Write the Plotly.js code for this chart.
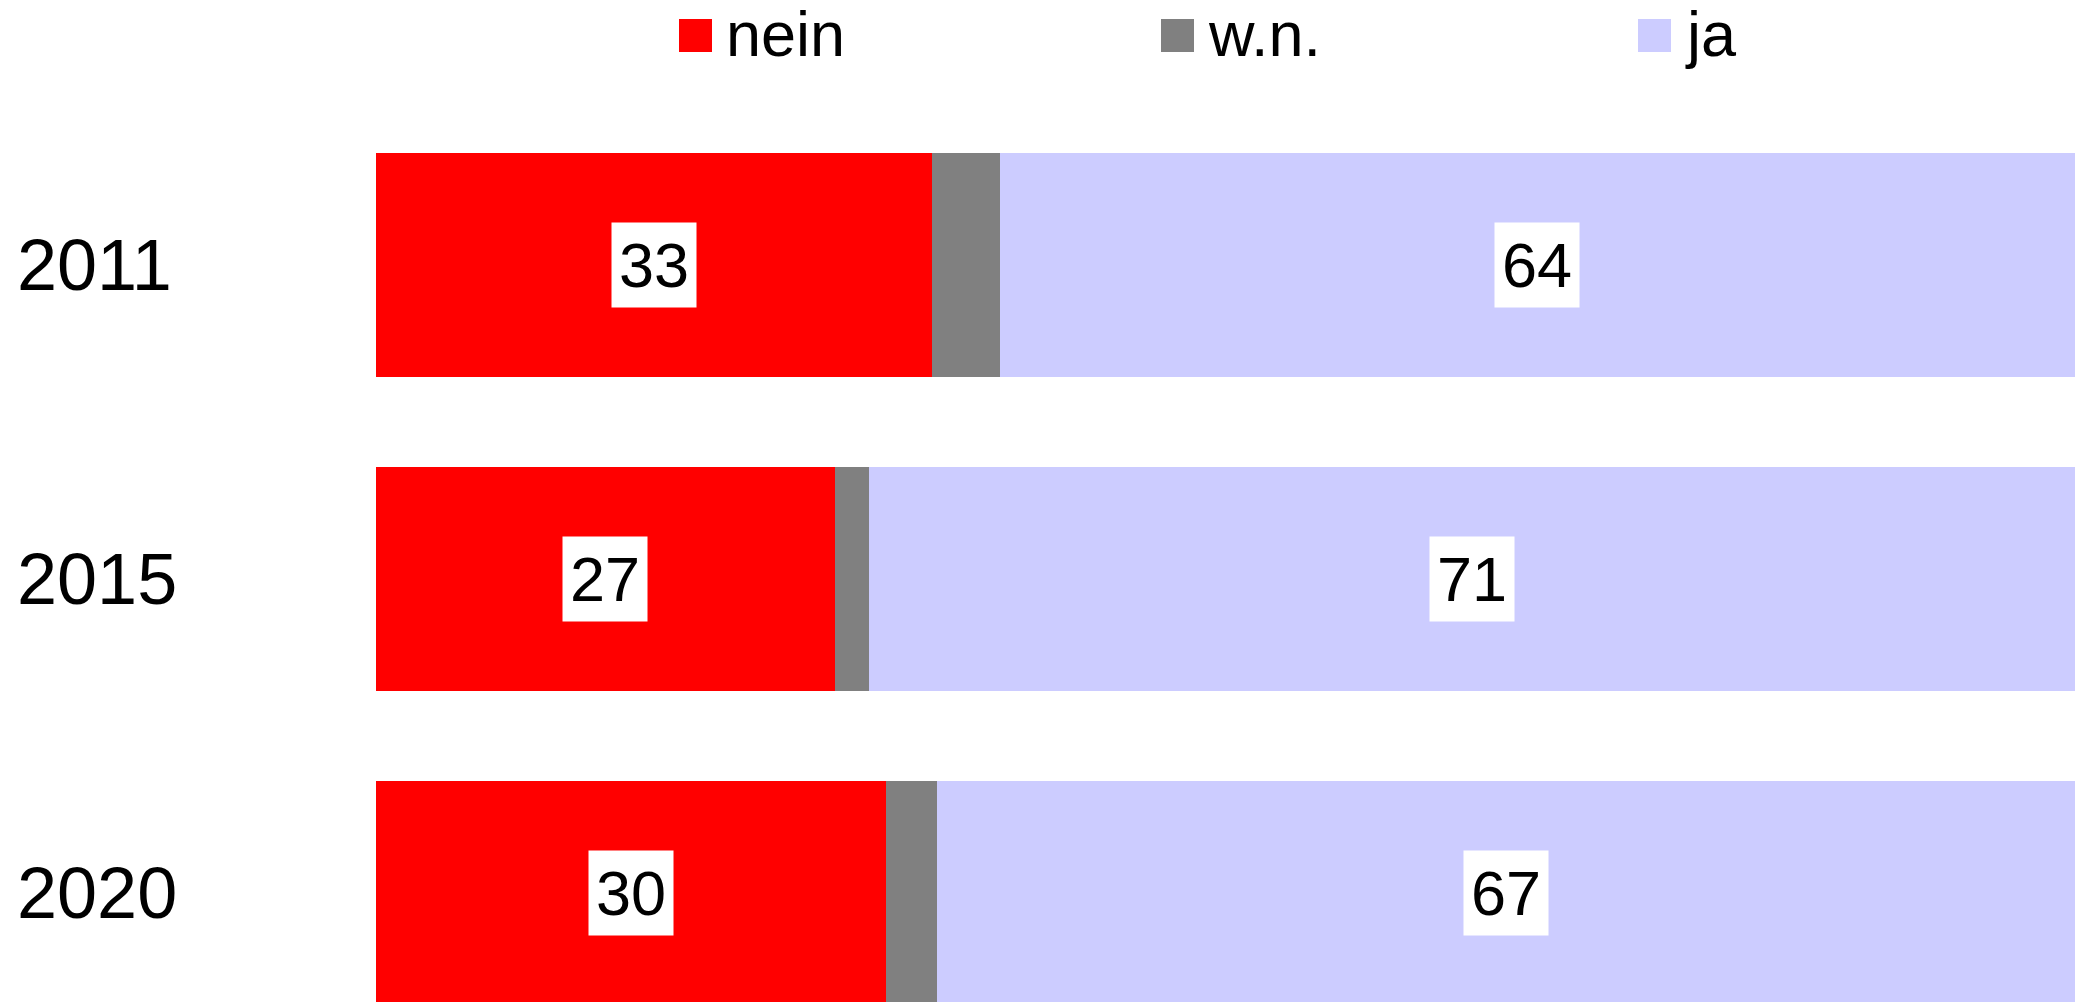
<!DOCTYPE html>
<html>
<head>
<meta charset="utf-8">
<script src="https://cdn.plot.ly/plotly-3.0.1.min.js"></script>
<style>
  html, body { margin: 0; padding: 0; background: #fff; }
  #chart { width: 2080px; height: 1002px; }
</style>
</head>
<body>
<div id="chart"></div>
<script>
// survey answers per year, shares in percent
var years = ['2011', '2015', '2020'];
var seriesNames = ['nein', 'w.n.', 'ja'];
var nein = [32.7, 27.0, 30.0];
var wn = [4.0, 2.0, 3.0];
var ja = [63.3, 71.0, 67.0];
// printed labels (rounded as in the source)
var neinLabels = ['33', '27', '30'];
var jaLabels = ['64', '71', '67'];

var colors = ['#ff0000', '#808080', '#ccccff'];
var FONT = 'Liberation Sans, Arial, sans-serif';

// plot area in pixels
var L = 376, R = 2075, T = 100, B = 1002;
function py(y) { return (B - y) / (B - T); }
function px(x) { return (x - L) / (R - L); }

var seriesValues = [nein, wn, ja];
var traces = [];
for (var s = 0; s < seriesNames.length; s++) {
  traces.push({
    type: 'bar',
    orientation: 'h',
    name: seriesNames[s],
    y: years,
    x: seriesValues[s],
    marker: { color: colors[s], line: { width: 0 } },
    hoverinfo: 'skip'
  });
}

var annotations = [];
for (var i = 0; i < years.length; i++) {
  // year labels, left aligned at the page edge
  annotations.push({
    xref: 'paper', yref: 'y', x: px(15), y: i,
    xanchor: 'left', yanchor: 'middle',
    text: years[i], showarrow: false,
    font: { family: FONT, size: 72, color: '#000' }
  });
  // value boxes in the middle of the red and blue segments
  annotations.push({
    x: nein[i] / 2, y: i, xref: 'x', yref: 'y',
    xanchor: 'center', yanchor: 'middle',
    text: neinLabels[i], showarrow: false,
    bgcolor: '#ffffff', borderpad: 7,
    font: { family: FONT, size: 63, color: '#000' }
  });
  annotations.push({
    x: nein[i] + wn[i] + ja[i] / 2, y: i, xref: 'x', yref: 'y',
    xanchor: 'center', yanchor: 'middle',
    text: jaLabels[i], showarrow: false,
    bgcolor: '#ffffff', borderpad: 7,
    font: { family: FONT, size: 63, color: '#000' }
  });
}

// hand-made legend (big square swatches)
var legendX = [679, 1161, 1638];
var shapes = [];
for (var k = 0; k < seriesNames.length; k++) {
  shapes.push({
    type: 'rect', xref: 'paper', yref: 'paper',
    x0: px(legendX[k]), x1: px(legendX[k] + 33),
    y0: py(52), y1: py(19),
    fillcolor: colors[k], line: { width: 0 }
  });
  annotations.push({
    xref: 'paper', yref: 'paper',
    x: px(legendX[k] + 45), y: py(34),
    xanchor: 'left', yanchor: 'middle',
    text: seriesNames[k], showarrow: false,
    font: { family: FONT, size: 63, color: '#000' }
  });
}

var layout = {
  width: 2080,
  height: 1002,
  margin: { l: L, r: 2080 - R, t: T, b: 1002 - B, pad: 0 },
  paper_bgcolor: '#ffffff',
  plot_bgcolor: '#ffffff',
  barmode: 'stack',
  bargap: 0.287,
  showlegend: false,
  xaxis: {
    range: [0, 100],
    showgrid: false, zeroline: false, showline: false,
    showticklabels: false, ticks: '', fixedrange: true
  },
  yaxis: {
    type: 'category',
    range: [2.347, -0.525],
    showgrid: false, zeroline: false, showline: false,
    showticklabels: false, ticks: '',
    fixedrange: true
  },
  shapes: shapes,
  annotations: annotations
};

Plotly.newPlot('chart', traces, layout, { staticPlot: true, displayModeBar: false });
</script>
</body>
</html>
